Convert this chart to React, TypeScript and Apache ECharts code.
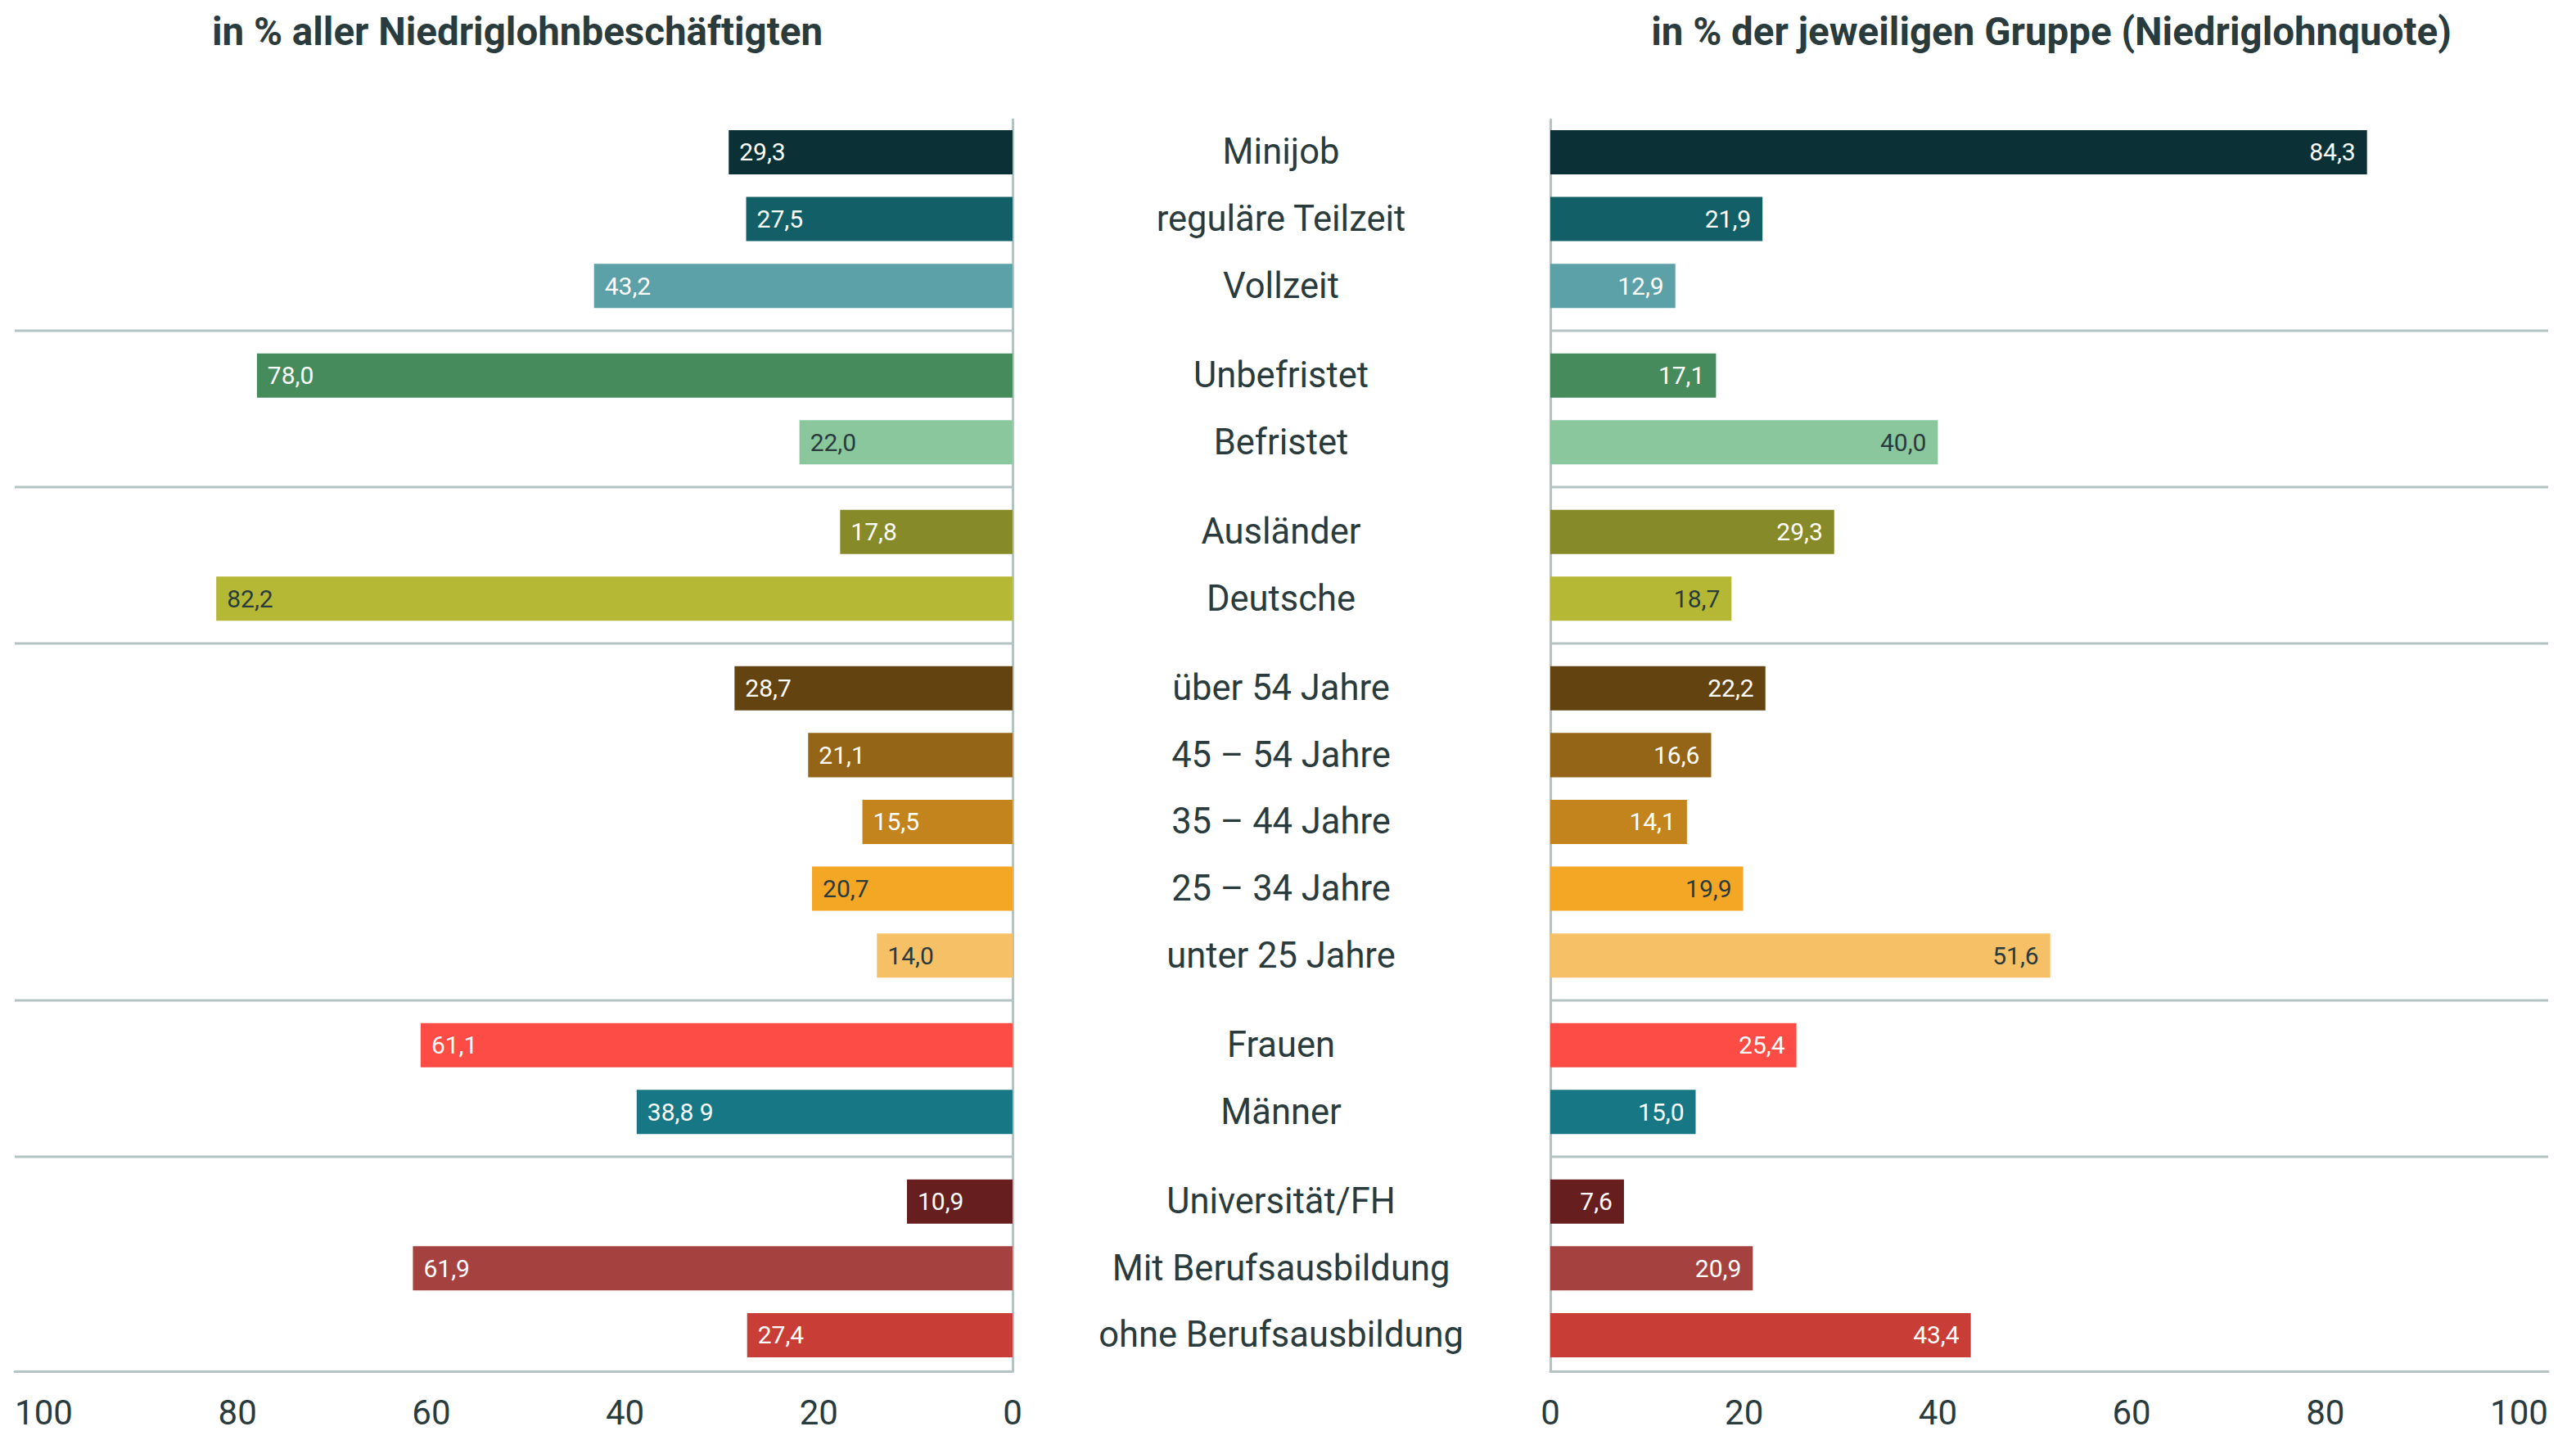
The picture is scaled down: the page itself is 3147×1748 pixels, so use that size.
import React, { useEffect, useRef } from "react";
import * as echarts from "echarts";

// ---------- data ----------
const categories = [
  "Minijob",
  "reguläre Teilzeit",
  "Vollzeit",
  "Unbefristet",
  "Befristet",
  "Ausländer",
  "Deutsche",
  "über 54 Jahre",
  "45 – 54 Jahre",
  "35 – 44 Jahre",
  "25 – 34 Jahre",
  "unter 25 Jahre",
  "Frauen",
  "Männer",
  "Universität/FH",
  "Mit Berufsausbildung",
  "ohne Berufsausbildung",
];
const groupSizes = [3, 2, 2, 5, 2, 3];

// in % aller Niedriglohnbeschäftigten
const shareValues = [29.3, 27.5, 43.2, 78.0, 22.0, 17.8, 82.2, 28.7, 21.1, 15.5, 20.7, 14.0, 61.1, 38.8, 10.9, 61.9, 27.4];
const shareLabels = ["29,3", "27,5", "43,2", "78,0", "22,0", "17,8", "82,2", "28,7", "21,1", "15,5", "20,7", "14,0", "61,1", "38,8 9", "10,9", "61,9", "27,4"];

// in % der jeweiligen Gruppe (Niedriglohnquote)
const quoteValues = [84.3, 21.9, 12.9, 17.1, 40.0, 29.3, 18.7, 22.2, 16.6, 14.1, 19.9, 51.6, 25.4, 15.0, 7.6, 20.9, 43.4];
const quoteLabels = ["84,3", "21,9", "12,9", "17,1", "40,0", "29,3", "18,7", "22,2", "16,6", "14,1", "19,9", "51,6", "25,4", "15,0", "7,6", "20,9", "43,4"];

const xTicks = [0, 20, 40, 60, 80, 100];

const titleLeft = "in % aller Niedriglohnbeschäftigten";
const titleRight = "in % der jeweiligen Gruppe (Niedriglohnquote)";

// ---------- styles ----------
const barColors = [
  "#0b3136", "#135f68", "#5ca0a8",
  "#458b5c", "#8bc79c",
  "#878a29", "#b5b835",
  "#634310", "#946417", "#c4841d", "#f4a625", "#f6c066",
  "#fd4b45", "#177784",
  "#661e1e", "#a5423f", "#c93d37",
];
const labelColors = [
  "#ffffff", "#ffffff", "#ffffff",
  "#ffffff", "#2a3b3d",
  "#ffffff", "#2a3b3d",
  "#ffffff", "#ffffff", "#ffffff", "#2a3b3d", "#2a3b3d",
  "#ffffff", "#ffffff",
  "#ffffff", "#ffffff", "#ffffff",
];

const TEXT = "#2a3b3d";
const RULE = "#b5c3c3";
const FONT = "Roboto, 'Noto Sans', sans-serif";
const GROUP_GAP = 0.341; // extra spacing between groups, in row units
const X_MAX = 103;

function buildPositions(): { rows: number[]; seps: number[] } {
  const rows: number[] = [];
  const seps: number[] = [];
  let i = 0;
  groupSizes.forEach((n, g) => {
    for (let k = 0; k < n; k++) {
      rows.push(i + g * GROUP_GAP);
      i++;
    }
    if (g < groupSizes.length - 1) {
      const last = rows[rows.length - 1];
      seps.push(last + (1 + GROUP_GAP) / 2);
    }
  });
  return { rows, seps };
}

export default function App() {
  const ref = useRef<HTMLDivElement>(null);

  useEffect(() => {
    if (!ref.current) return;
    const chart = echarts.init(ref.current, undefined, { renderer: "svg" });
    const { rows, seps } = buildPositions();
    const yMin = -0.49;
    const yMax = rows[rows.length - 1] + 0.54;

    const makeBars = (gridIdx: number, values: number[], labels: string[], leftSide: boolean) => ({
      type: "custom",
      xAxisIndex: gridIdx,
      yAxisIndex: gridIdx,
      encode: { x: 0, y: 1 },
      data: values.map((v, i) => [v, rows[i], i]),
      renderItem: (params: any, api: any) => {
        const v = api.value(0);
        const y = api.value(1);
        const idx = api.value(2);
        const s = api.coord([0, y]);
        const e = api.coord([v, y]);
        const h = api.size([0, 1])[1] * 0.662;
        const x0 = Math.min(s[0], e[0]);
        const w = Math.abs(e[0] - s[0]);
        return {
          type: "group",
          children: [
            {
              type: "rect",
              shape: { x: x0, y: s[1] - h / 2, width: w, height: h },
              style: { fill: barColors[idx] },
            },
            {
              type: "text",
              style: {
                text: labels[idx],
                x: leftSide ? e[0] + 13 : e[0] - 14,
                y: s[1],
                align: leftSide ? "left" : "right",
                verticalAlign: "middle",
                fill: labelColors[idx],
                fontSize: 30,
                fontFamily: FONT,
              },
            },
          ],
        };
      },
      z: 3,
    });

    const makeSeps = (gridIdx: number) => ({
      type: "custom",
      xAxisIndex: gridIdx,
      yAxisIndex: gridIdx,
      encode: { y: 0 },
      data: seps.map((p) => [p]),
      renderItem: (params: any, api: any) => {
        const p = api.value(0);
        const a = api.coord([0, p]);
        const b = api.coord([X_MAX, p]);
        return {
          type: "line",
          shape: { x1: a[0], y1: a[1], x2: b[0], y2: b[1] },
          style: { stroke: RULE, lineWidth: 3 },
        };
      },
      z: 2,
    });

    const catLabels = {
      type: "custom",
      xAxisIndex: 1,
      yAxisIndex: 1,
      encode: { y: 0 },
      data: rows.map((p, i) => [p, i]),
      renderItem: (params: any, api: any) => {
        const p = api.value(0);
        const i = api.value(1);
        const c = api.coord([0, p]);
        return {
          type: "text",
          style: {
            text: categories[i],
            x: c[0] - 329,
            y: c[1],
            align: "center",
            verticalAlign: "middle",
            fill: TEXT,
            fontSize: 43.5,
            fontFamily: FONT,
          },
        };
      },
      z: 3,
    };

    const xAxisBase = (gridIndex: number, inverse: boolean) => ({
      type: "value",
      gridIndex,
      min: 0,
      max: X_MAX,
      interval: 20,
      inverse,
      axisLine: { show: true, onZero: false, lineStyle: { color: RULE, width: 3 } },
      axisTick: { show: false },
      splitLine: { show: false },
      axisLabel: {
        color: TEXT,
        fontSize: 42,
        lineHeight: 38,
        fontFamily: FONT,
        margin: 31,
        formatter: (v: number) => (xTicks.indexOf(v) >= 0 ? String(v) : ""),
      },
    });

    const yAxisBase = (gridIndex: number) => ({
      type: "value",
      gridIndex,
      min: yMin,
      max: yMax,
      inverse: true,
      axisLine: { show: true, onZero: true, lineStyle: { color: RULE, width: 3 } },
      axisTick: { show: false },
      axisLabel: { show: false },
      splitLine: { show: false },
    });

    chart.setOption({
      animation: false,
      backgroundColor: "#ffffff",
      grid: [
        { left: 18, right: 3147 - 1237, top: 146, bottom: 1748 - 1675, containLabel: false },
        { left: 1894, right: 3147 - 3113, top: 146, bottom: 1748 - 1675, containLabel: false },
      ],
      xAxis: [xAxisBase(0, true), xAxisBase(1, false)],
      yAxis: [yAxisBase(0), yAxisBase(1)],
      graphic: [
        {
          type: "text",
          x: 632,
          y: 39,
          style: {
            text: titleLeft,
            align: "center",
            verticalAlign: "middle",
            fill: TEXT,
            fontSize: 47.5,
            fontWeight: "bold",
            fontFamily: FONT,
          },
        },
        {
          type: "text",
          x: 2506,
          y: 39,
          style: {
            text: titleRight,
            align: "center",
            verticalAlign: "middle",
            fill: TEXT,
            fontSize: 47.5,
            fontWeight: "bold",
            fontFamily: FONT,
          },
        },
      ],
      series: [
        makeSeps(0),
        makeSeps(1),
        makeBars(0, shareValues, shareLabels, true),
        makeBars(1, quoteValues, quoteLabels, false),
        catLabels,
      ],
    });

    return () => chart.dispose();
  }, []);

  return (
    <div
      ref={ref}
      style={{ position: "absolute", left: 0, top: 0, width: 3147, height: 1748 }}
    />
  );
}
